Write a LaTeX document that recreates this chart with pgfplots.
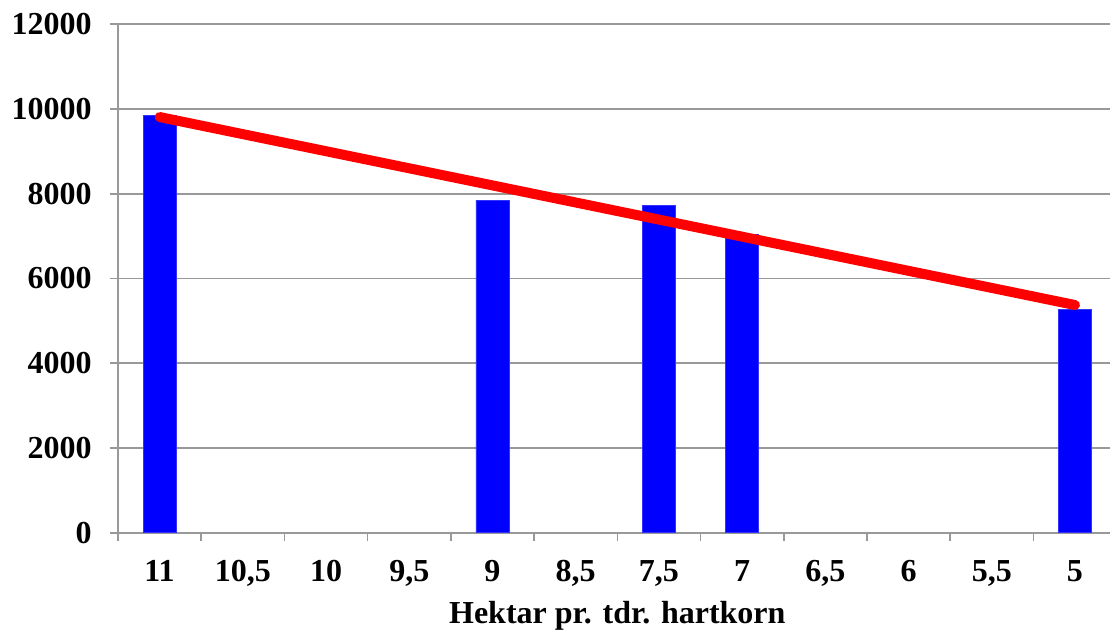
\documentclass[border=0pt]{standalone}
\usepackage{pgfplots}
\pgfplotsset{compat=1.18}
\usepackage{fontspec}
\setmainfont{Liberation Serif}

\begin{document}
\begin{tikzpicture}
\begin{axis}[
    scale only axis,
    width=499.3bp, height=254.2bp,
    xmin=-0.5, xmax=11.5,
    ymin=0, ymax=12000,
    axis x line*=bottom, axis y line*=left,
    axis line style={draw=gray!80, line width=0.8bp},
    xtick={-0.5,0.5,...,11.5}, xticklabels={},
    extra x ticks={0,...,11},
    extra x tick labels={11,{10,5},10,{9,5},9,{8,5},{7,5},7,{6,5},6,{5,5},5},
    extra x tick style={major tick length=0pt, grid=none},
    ytick={0,2000,...,12000},
    tick align=outside, major tick length=4bp,
    tick style={draw=gray!80, line width=0.8bp},
    ymajorgrids, grid style={draw=gray!80, line width=0.8bp},
    scaled y ticks=false,
    /pgf/number format/1000 sep={},
    /pgf/number format/assume math mode=true,
    ticklabel style={font=\fontsize{16bp}{18bp}\selectfont\bfseries, inner sep=0pt},
    yticklabel style={anchor=east, xshift=-9bp},
    xticklabel style={anchor=north, yshift=-13.6bp},
    xlabel={Hektar pr. tdr. hartkorn},
    xlabel style={font=\fontsize{16bp}{18bp}\selectfont\bfseries, at={(axis description cs:0.5,0)}, anchor=north, yshift=-34bp, inner sep=0pt},
    clip=false,
]
\addplot[ybar, bar width=16.5bp, fill=blue, draw=blue!80, bar shift=0pt] coordinates {
    (0,9840) (4,7850) (6,7730) (7,7030) (11,5280)
};
\addplot[red, line width=5bp, line cap=round] coordinates {
    (0,9811) (11,5374)
};
\end{axis}
\pgfresetboundingbox
\path[use as bounding box] (-59bp,-51.15bp) rectangle (496bp,266.35bp);
\end{tikzpicture}
\end{document}
